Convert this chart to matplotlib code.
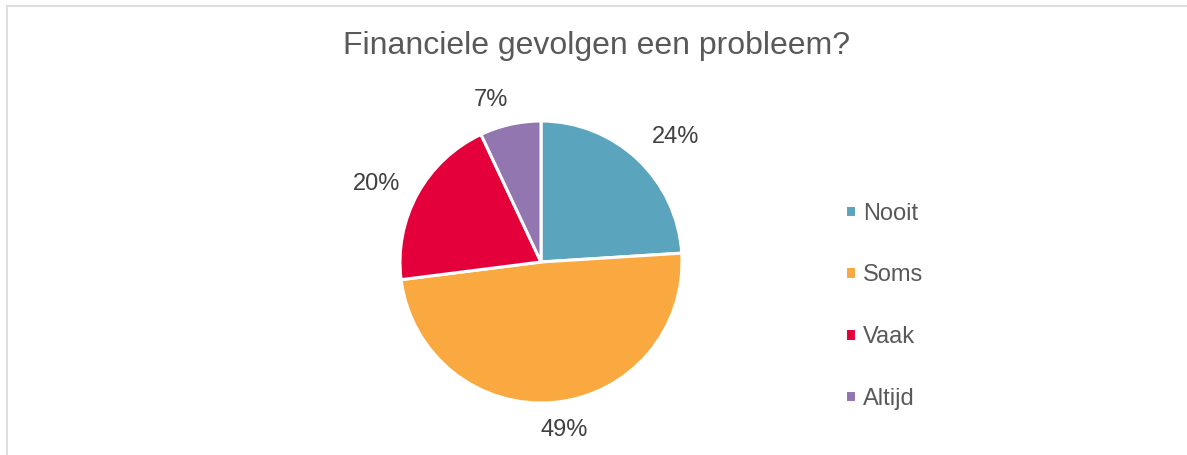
import numpy as np
import matplotlib.pyplot as plt
from matplotlib.lines import Line2D

plt.rcParams['font.family'] = ['Liberation Sans', 'DejaVu Sans']

# Data
categories = ['Nooit', 'Soms', 'Vaak', 'Altijd']
shares = [24, 49, 20, 7]
colors = ['#5BA4BE', '#F9A940', '#E4003B', '#9276AF']

W, H = 1187, 455
fig = plt.figure(figsize=(W / 100, H / 100), dpi=100)

# pie axes: centre (541, 262) px, radius 141 px
cx, cy, r = 541, 262, 141
ax = fig.add_axes([(cx - r) / W, (H - cy - r) / H, 2 * r / W, 2 * r / H])

wedges, texts, autotexts = ax.pie(
    shares, colors=colors, startangle=90, counterclock=False,
    autopct='%1.0f%%', pctdistance=1.26,
    wedgeprops=dict(edgecolor='white', linewidth=2.2),
    textprops=dict(fontsize=17, color='#404040'))
ax.set_xlim(-1, 1)
ax.set_ylim(-1, 1)
ax.set_aspect('auto')

# excel-style "best fit" label placement: radial distance and small angle shift
label_dist = [1.30, 1.20, 1.29, 1.20]
label_shift = [-4, 2.5, 3.5, 4.5]
for w, t, d, s in zip(wedges, autotexts, label_dist, label_shift):
    th = np.deg2rad((w.theta1 + w.theta2) / 2 + s)
    t.set_position((d * np.cos(th), d * np.sin(th)))

fig.text(597 / W, 1 - 46 / H, 'Financiele gevolgen een probleem?',
         ha='center', va='center', fontsize=23, color='#595959')

fig.legend(wedges, categories, loc='center left',
           bbox_to_anchor=(845 / W, 1 - 306 / H), bbox_transform=fig.transFigure,
           frameon=False, fontsize=17, labelcolor='#595959',
           handlelength=0.45, handleheight=0.45, handletextpad=0.3,
           labelspacing=1.68, borderpad=0, borderaxespad=0)

# light frame around the chart area (top and left edges visible)
fig.add_artist(Line2D([6.5 / W, 1], [1 - 5.5 / H, 1 - 5.5 / H],
                      transform=fig.transFigure, color='#D9D9D9', linewidth=1.2))
fig.add_artist(Line2D([6.5 / W, 6.5 / W], [0, 1 - 5.5 / H],
                      transform=fig.transFigure, color='#D9D9D9', linewidth=1.2))

fig.savefig('out.png', dpi=100, facecolor='white')
